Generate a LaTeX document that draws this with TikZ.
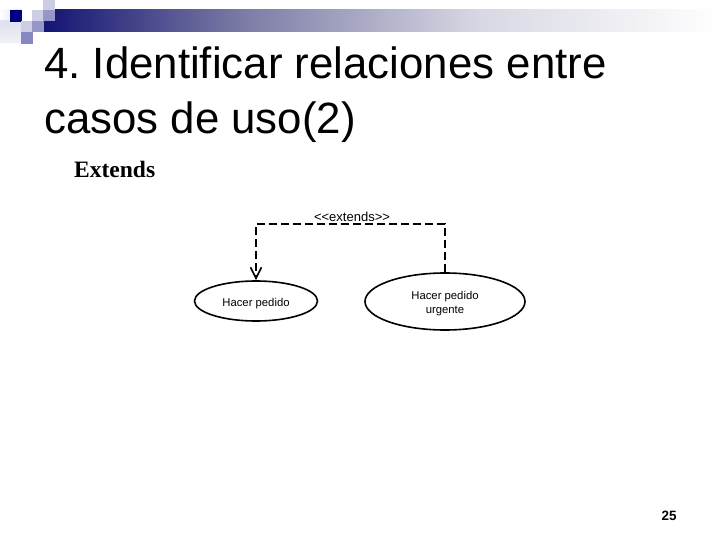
\documentclass[tikz,border=0pt]{standalone}
\usepackage{fontspec}
\setmainfont{Liberation Sans}
\newfontfamily\slideserif{Liberation Serif}
\usetikzlibrary{arrows.meta,shapes.geometric}
\definecolor{navy}{RGB}{0,0,128}
\definecolor{darknavy}{RGB}{20,20,115}
\definecolor{fadeone}{RGB}{122,122,165}
\definecolor{fadetwo}{RGB}{216,216,228}
\definecolor{palelav}{RGB}{205,205,228}
\definecolor{midlav}{RGB}{150,150,200}
\pgfdeclarehorizontalshading{bannerfade}{100bp}{color(0bp)=(darknavy); color(25bp)=(darknavy);
  color(39.5bp)=(fadeone); color(57.2bp)=(fadetwo); color(75bp)=(white); color(100bp)=(white)}
\newcommand{\dropline}[1]{\raisebox{-2.5pt}[8pt][3pt]{#1}}
\frenchspacing
\tikzset{
  usecase/.style={draw,ellipse,line width=1.6pt,inner sep=0pt,font=\fontsize{11.3}{14}\selectfont,align=center},
  depends/.style={line width=1.7pt,dash pattern=on 8pt off 4pt,-{Straight Barb[length=11pt,width=11pt]}}
}
\begin{document}
\begin{tikzpicture}[x=1pt,y=-1pt]
\useasboundingbox (0,0) rectangle (720,540);
\shade[shading=bannerfade] (44,10) rectangle (720,32);
\shade[left color=white,right color=palelav!60] (0,10) rectangle (21,21);
\shade[top color=palelav!60,bottom color=palelav!30] (0,21) rectangle (21,43);
\fill[navy] (10,10) rectangle (22,22);
\fill[palelav] (43,0) rectangle (55,10);
\fill[palelav] (32,10) rectangle (43,21);
\fill[midlav] (43,10) rectangle (55,21);
\fill[palelav] (21,21) rectangle (32,32);
\fill[midlav] (32,21) rectangle (44,32);
\fill[midlav!90!navy] (21,32) rectangle (33,44);
\node[anchor=north west,inner sep=0pt,font=\fontsize{43.8}{55}\selectfont,align=left] (TITLE) at (44,47)
  {4. Identificar relaciones entre\\casos de uso(2)};
\node[anchor=base west,inner sep=0pt,font=\slideserif\bfseries\fontsize{23.5}{26}\selectfont] (EXTENDS) at (74,178) {Extends};
\node[usecase,minimum width=123pt,minimum height=40pt] (PEDIDO) at (256,301) {\dropline{Hacer pedido}};
\node[usecase,minimum width=160pt,minimum height=57pt] (URGENTE) at (445,301.5) {\dropline{Hacer pedido}\\\dropline{urgente}};
\draw[depends] (URGENTE.north) -- +(0,-48) -| (PEDIDO.north);
\node[inner sep=0pt,font=\fontsize{13}{15}\selectfont] (LABEL) at (352,217) {{<}{<}extends{>}{>}};
\node[inner sep=0pt,font=\bfseries\fontsize{13.5}{15}\selectfont] (PAGE) at (669,516) {25};
\end{tikzpicture}
\end{document}
